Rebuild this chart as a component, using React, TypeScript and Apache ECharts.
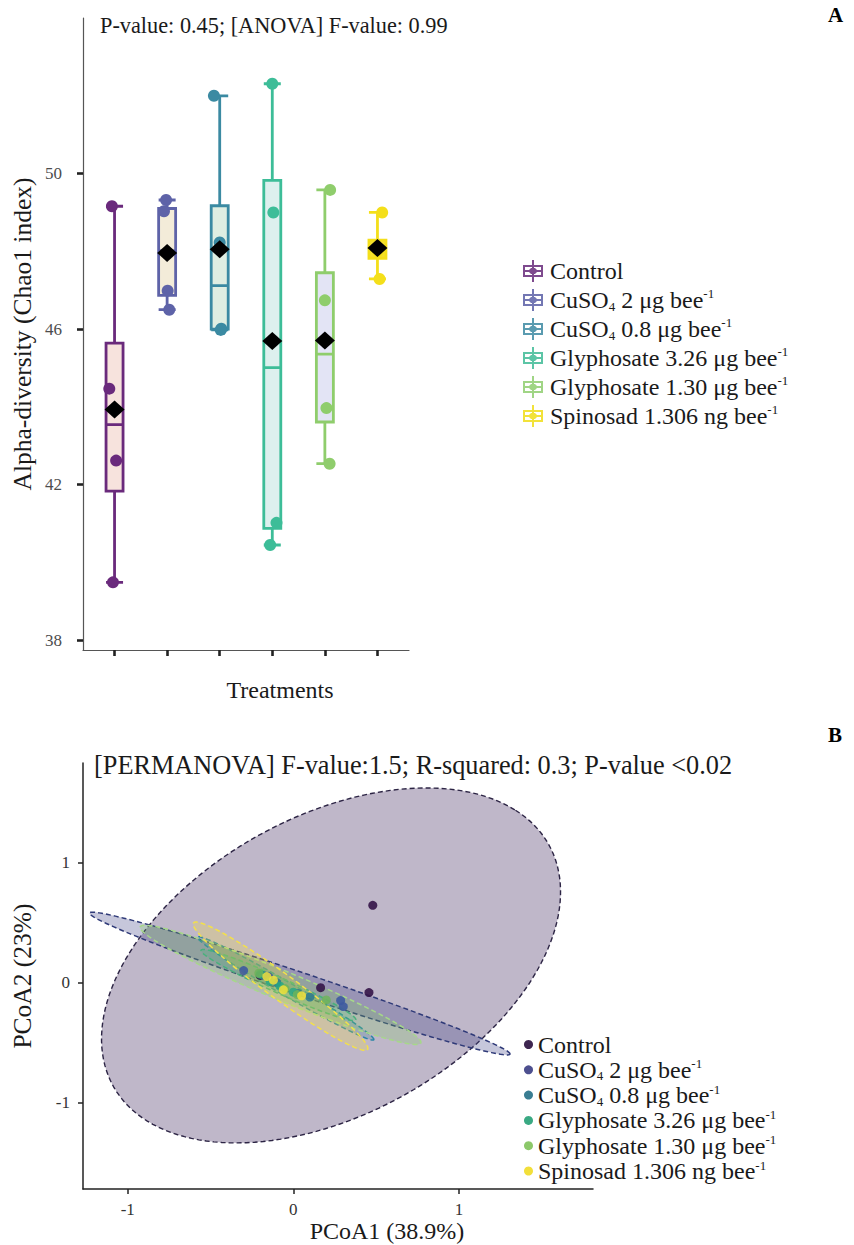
import React, { useEffect, useRef } from "react";
import * as echarts from "echarts";

// ---------------- data: panel A ----------------
const GROUPS = [
  "Control",
  "CuSO4 2 μg bee-1",
  "CuSO4 0.8 μg bee-1",
  "Glyphosate 3.26 μg bee-1",
  "Glyphosate 1.30 μg bee-1",
  "Spinosad 1.306 ng bee-1",
];
const LEGEND_LABELS = [
  "Control",
  "CuSO{sub|4} 2 μg bee{sup|-1}",
  "CuSO{sub|4} 0.8 μg bee{sup|-1}",
  "Glyphosate 3.26 μg bee{sup|-1}",
  "Glyphosate 1.30 μg bee{sup|-1}",
  "Spinosad 1.306 ng bee{sup|-1}",
];
const GROUP_POS = [1, 2, 3, 4, 5, 6];
const CHAO1 = [
  [49.16, 44.47, 42.62, 39.49],
  [49.32, 49.03, 46.99, 46.5],
  [52.0, 48.23, 46.01, 45.98],
  [52.31, 49.0, 41.02, 40.45],
  [49.58, 46.74, 43.97, 42.54],
  [49.0, 48.05, 48.0, 47.29],
];
const JITTER = [
  [-0.05, -0.1, 0.03, -0.03],
  [-0.02, -0.06, 0.01, 0.04],
  [-0.11, 0.0, 0.03, 0.02],
  [0.0, 0.02, 0.08, -0.04],
  [0.1, 0.0, 0.03, 0.09],
  [0.09, 0.0, 0.01, 0.04],
];
const Y_TICKS_A = [38, 42, 46, 50];

// ---------------- data: panel B ----------------
const PCOA1 = [
  [0.48, 0.457, 0.165, -0.2],
  [0.286, 0.302, -0.15, -0.3],
  [-0.1, 0.03, -0.18, 0.1],
  [-0.14, -0.08, -0.2, 0.0],
  [0.199, -0.208, -0.05, 0.024],
  [-0.12, -0.06, -0.16, 0.05],
];
const PCOA2 = [
  [0.644, -0.083, -0.042, 0.06],
  [-0.15, -0.2, 0.05, 0.1],
  [0.0, -0.09, 0.06, -0.12],
  [0.01, -0.03, 0.07, -0.08],
  [-0.144, 0.078, -0.05, -0.1],
  [0.02, -0.06, 0.05, -0.11],
];
const ELL_CX = [0.228, 0.039, -0.046, -0.09, -0.077, -0.077];
const ELL_CY = [0.143, -0.008, -0.048, -0.02, -0.019, -0.03];
const ELL_A = [1.707, 1.399, 0.683, 0.55, 0.976, 0.745];
const ELL_B = [1.093, 0.09, 0.052, 0.06, 0.115, 0.095];
const ELL_ANGLE = [49.45, -24.9, -38.9, -32, -29.9, -45.4];
const B_TICKS = [-1, 0, 1];

// ---------------- styles ----------------
const COLORS_A = ["#6a2a7c", "#5e63a8", "#3b8aa2", "#3dbd98", "#8fcd6c", "#f4df1a"];
const FILLS_A = ["#f7e3dd", "#f3ecd9", "#dfeee2", "#ddf0ee", "#e3e4f5", "#f3df30"];
const LEGEND_A_COLORS = ["#7e4a8e", "#7377b3", "#5a9bb0", "#5cc5a6", "#a0d585", "#f2e23a"];
const ELL_FILL = [
  "rgba(60,36,90,0.33)",
  "rgba(65,68,135,0.3)",
  "rgba(42,120,142,0.22)",
  "rgba(34,168,132,0.2)",
  "rgba(122,209,81,0.22)",
  "rgba(253,231,37,0.22)",
];
const ELL_STROKE = ["#2c2444", "#2f3a78", "#2a86a6", "#3aa888", "#a6d889", "#f3e04a"];
const PT_B_COLORS = [
  "rgba(52,20,72,0.9)",
  "rgba(62,90,160,0.9)",
  "rgba(42,120,142,0.85)",
  "rgba(34,168,132,0.8)",
  "rgba(110,180,90,0.85)",
  "rgba(240,225,60,0.85)",
];
const LEGEND_B_COLORS = ["#3e2650", "#4d4f8f", "#3a7d92", "#3aa983", "#8cc86a", "#f2df3a"];

const FONT = "Liberation Serif";

function quantile(sorted: number[], p: number) {
  const h = (sorted.length - 1) * p;
  const lo = Math.floor(h);
  const hi = Math.ceil(h);
  return sorted[lo] + (h - lo) * (sorted[hi] - sorted[lo]);
}

const BOX_ICON =
  "path://M11 0H13V5H11Z M11 17H13V22H11Z M2 5H22V17H2Z M4 7V15H20V7Z M4 10H20V12H4Z M11 7H13V15H11Z M10 8H14L16 10V12L14 14H10L8 12V10Z";

function buildOption() {
  const boxData = CHAO1.map((vals, i) => {
    const s = [...vals].sort((a, b) => a - b);
    return {
      value: [GROUP_POS[i], s[0], quantile(s, 0.25), quantile(s, 0.5), quantile(s, 0.75), s[s.length - 1]],
      itemStyle: { color: FILLS_A[i], borderColor: COLORS_A[i], borderWidth: 2.8 },
    };
  });
  const meanData = CHAO1.map((vals, i) => [GROUP_POS[i], vals.reduce((a, b) => a + b, 0) / vals.length]);

  const richStyle = {
    sub: { fontFamily: FONT, fontSize: 13, color: "#1a1a1a", verticalAlign: "bottom" },
    sup: { fontFamily: FONT, fontSize: 13, color: "#1a1a1a", verticalAlign: "top" },
  };
  const fmt = (name: string) => LEGEND_LABELS[GROUPS.indexOf(name)];

  const series: any[] = [];
  series.push({
    type: "boxplot",
    name: "Box",
    xAxisIndex: 0,
    yAxisIndex: 0,
    layout: "horizontal",
    boxWidth: [17, 17],
    data: boxData,
    z: 2,
  });
  GROUPS.forEach((g, i) => {
    series.push({
      type: "scatter",
      name: g,
      xAxisIndex: 0,
      yAxisIndex: 0,
      symbolSize: 12,
      itemStyle: { color: COLORS_A[i], opacity: 1 },
      data: CHAO1[i].map((v, k) => [GROUP_POS[i] + JITTER[i][k], v]),
      z: 3,
    });
  });
  series.push({
    type: "scatter",
    name: "Mean",
    xAxisIndex: 0,
    yAxisIndex: 0,
    symbol: "diamond",
    symbolSize: [20, 18],
    itemStyle: { color: "#000", opacity: 1 },
    data: meanData,
    z: 4,
  });
  GROUPS.forEach((g, i) => {
    series.push({
      type: "custom",
      name: g,
      xAxisIndex: 1,
      yAxisIndex: 1,
      clip: false,
      z: 2,
      data: [[ELL_CX[i], ELL_CY[i], ELL_A[i], ELL_B[i], ELL_ANGLE[i]]],
      renderItem: (params: any, api: any) => {
        const cx = api.value(0);
        const cy = api.value(1);
        const a = api.value(2);
        const b = api.value(3);
        const ang = (api.value(4) * Math.PI) / 180;
        const pts: number[][] = [];
        const N = 160;
        for (let k = 0; k < N; k++) {
          const t = (2 * Math.PI * k) / N;
          const x = cx + a * Math.cos(ang) * Math.cos(t) - b * Math.sin(ang) * Math.sin(t);
          const y = cy + a * Math.sin(ang) * Math.cos(t) + b * Math.cos(ang) * Math.sin(t);
          pts.push(api.coord([x, y]));
        }
        return {
          type: "polygon",
          shape: { points: pts },
          style: {
            fill: ELL_FILL[i],
            stroke: ELL_STROKE[i],
            lineWidth: i === 0 ? 1.4 : 1.5,
            lineDash: [5, 3],
          },
        };
      },
    });
  });
  GROUPS.forEach((g, i) => {
    series.push({
      type: "scatter",
      name: g,
      xAxisIndex: 1,
      yAxisIndex: 1,
      symbolSize: 9,
      itemStyle: { color: PT_B_COLORS[i], opacity: 1 },
      data: PCOA1[i].map((v, k) => [v, PCOA2[i][k]]),
      z: 5,
    });
  });

  const nameStyle = { fontFamily: FONT, fontSize: 24, color: "#1a1a1a" };
  const yNameStyle = { fontFamily: FONT, fontSize: 25.5, color: "#1a1a1a" };

  return {
    animation: false,
    backgroundColor: "#ffffff",
    textStyle: { fontFamily: FONT },
    grid: [
      { left: 83, top: 18, width: 326, height: 632 },
      { left: 83, top: 763, width: 510, height: 426 },
    ],
    xAxis: [
      {
        type: "value",
        gridIndex: 0,
        min: 0.4,
        max: 6.6,
        name: "Treatments",
        nameLocation: "middle",
        nameGap: 28,
        nameTextStyle: { ...nameStyle, padding: [0, 0, 0, 68] },
        axisLine: { onZero: false, lineStyle: { color: "#555", width: 1.2 } },
        axisTick: { show: true, length: 6, customValues: GROUP_POS, lineStyle: { color: "#222", width: 2.6 } },
        axisLabel: { show: false },
        splitLine: { show: false },
      },
      {
        type: "value",
        gridIndex: 1,
        min: -1.27,
        max: 1.81,
        name: "PCoA1 (38.9%)",
        nameLocation: "middle",
        nameGap: 24,
        nameTextStyle: { ...nameStyle, padding: [0, 0, 0, 98] },
        axisLine: { onZero: false, lineStyle: { color: "#222", width: 1.5 } },
        axisTick: { show: true, length: 5, customValues: B_TICKS, lineStyle: { color: "#222", width: 1.5 } },
        axisLabel: { customValues: B_TICKS, margin: 12, fontFamily: FONT, fontSize: 17, color: "#333" },
        splitLine: { show: false },
      },
    ],
    yAxis: [
      {
        type: "value",
        gridIndex: 0,
        min: 37.75,
        max: 54,
        name: "Alpha-diversity (Chao1 index)",
        nameLocation: "middle",
        nameRotate: 90,
        nameGap: 48,
        nameTextStyle: yNameStyle,
        axisLine: { show: true, onZero: false, lineStyle: { color: "#555", width: 1.2 } },
        axisTick: { show: true, length: 6, customValues: Y_TICKS_A, lineStyle: { color: "#222", width: 2.6 } },
        axisLabel: { customValues: Y_TICKS_A, margin: 21, fontFamily: FONT, fontSize: 17, color: "#4d4d4d" },
        splitLine: { show: false },
      },
      {
        type: "value",
        gridIndex: 1,
        min: -1.72,
        max: 1.83,
        name: "PCoA2 (23%)",
        nameLocation: "middle",
        nameRotate: 90,
        nameGap: 48,
        nameTextStyle: yNameStyle,
        axisLine: { show: true, onZero: false, lineStyle: { color: "#222", width: 1.5 } },
        axisTick: { show: true, length: 5, customValues: B_TICKS, lineStyle: { color: "#222", width: 1.5 } },
        axisLabel: { customValues: B_TICKS, margin: 13, fontFamily: FONT, fontSize: 17, color: "#333" },
        splitLine: { show: false },
      },
    ],
    legend: [
      {
        orient: "vertical",
        left: 518,
        top: 253,
        itemWidth: 24,
        itemHeight: 22,
        itemGap: 3,
        selectedMode: false,
        formatter: fmt,
        textStyle: { fontFamily: FONT, fontSize: 24, color: "#1a1a1a", lineHeight: 26, rich: richStyle },
        data: GROUPS.map((g, i) => ({ name: g, icon: BOX_ICON, itemStyle: { color: LEGEND_A_COLORS[i] } })),
      },
      {
        orient: "vertical",
        left: 519,
        top: 1027,
        itemWidth: 9,
        itemHeight: 9,
        itemGap: 0.3,
        selectedMode: false,
        formatter: fmt,
        textStyle: { fontFamily: FONT, fontSize: 24, color: "#1a1a1a", lineHeight: 25, rich: richStyle },
        data: GROUPS.map((g, i) => ({ name: g, icon: "circle", itemStyle: { color: LEGEND_B_COLORS[i] } })),
      },
    ],
    graphic: [
      {
        type: "text",
        left: 100,
        top: 14,
        style: { text: "P-value: 0.45; [ANOVA] F-value: 0.99", fontFamily: FONT, fontSize: 22.3, fill: "#1a1a1a" },
      },
      {
        type: "text",
        left: 828,
        top: 4,
        style: { text: "A", fontFamily: FONT, fontSize: 21, fontWeight: "bold", fill: "#000" },
      },
      {
        type: "text",
        left: 828,
        top: 724,
        style: { text: "B", fontFamily: FONT, fontSize: 21, fontWeight: "bold", fill: "#000" },
      },
      {
        type: "text",
        left: 94,
        top: 752,
        style: {
          text: "[PERMANOVA] F-value:1.5; R-squared: 0.3; P-value <0.02",
          fontFamily: FONT,
          fontSize: 26.3,
          fill: "#1a1a1a",
        },
      },
    ],
    series,
  };
}

export default function App() {
  const ref = useRef<HTMLDivElement>(null);
  useEffect(() => {
    if (!ref.current) return;
    const chart = echarts.init(ref.current, null, { renderer: "svg" });
    chart.setOption(buildOption() as any);
    return () => chart.dispose();
  }, []);
  return (
    <div
      ref={ref}
      style={{ position: "absolute", left: 0, top: 0, width: 854, height: 1245, background: "#fff" }}
    />
  );
}
